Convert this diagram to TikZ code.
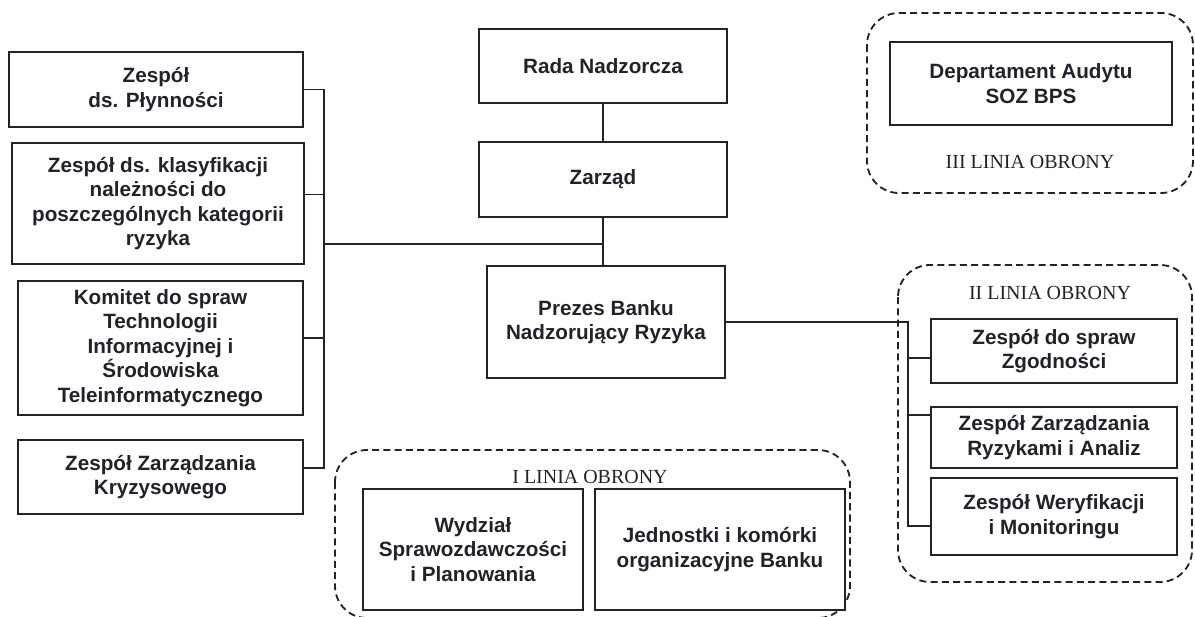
\documentclass[tikz,border=0pt]{standalone}
\usepackage{fontspec}
\setmainfont{Liberation Sans}
\newfontfamily\serifline{Liberation Serif}
\usepackage{tikz}

\definecolor{ink}{RGB}{34,34,44}
\newcommand{\boxfont}{\fontsize{14.7pt}{17.5pt}\selectfont\bfseries}
\newcommand{\oblfont}{\serifline\fontsize{14.2pt}{16pt}\selectfont}

\tikzset{
  unit/.style={draw=ink, line width=1.3pt, fill=white, align=center, text=ink, font=\boxfont, inner sep=1pt},
  link/.style={draw=ink, line width=0.9pt},
  grp/.style={draw=ink, line width=1.3pt, dash pattern=on 5pt off 3pt, rounded corners=0.8cm},
  oblabel/.style={font=\oblfont, text=ink},
}

\begin{document}
\begin{tikzpicture}[x=0.025cm, y=-0.025cm]
    \useasboundingbox (0,0) rectangle (1195,617);

    % linie obrony
    \draw[grp] (867,13) rectangle (1193,193);
    \draw[grp] (898,265) rectangle (1192,582);
    \draw[grp] (335,450) rectangle (850,618);
    \node[oblabel] (obr3) at (1030,162) {III LINIA OBRONY};
    \node[oblabel] (obr2) at (1050,293) {II LINIA OBRONY};
    \node[oblabel] (obr1) at (590,477) {I LINIA OBRONY};

    % srodek
    \node[unit, minimum width=6.2cm, minimum height=1.85cm] (rada) at (603,66) {Rada Nadzorcza};
    \node[unit, minimum width=6.2cm, minimum height=1.875cm] (zarzad) at (603,179.5) {Zarząd};
    \node[unit, minimum width=5.95cm, minimum height=2.8cm] (prezes) at (606,322) {Prezes Banku\\Nadzorujący Ryzyka};

    % lewa strona
    \node[unit, minimum width=7.35cm, minimum height=1.875cm] (plyn) at (156,89.5) {Zespół\\ds. Płynności};
    \node[unit, minimum width=7.3cm, minimum height=3.025cm] (klas) at (158,203.5) {Zespół ds. klasyfikacji\\należności do\\poszczególnych kategorii\\ryzyka};
    \node[unit, minimum width=7.125cm, minimum height=3.35cm] (komitet) at (160.5,348) {Komitet do spraw\\Technologii\\Informacyjnej i\\Środowiska\\Teleinformatycznego};
    \node[unit, minimum width=7.125cm, minimum height=1.85cm] (kryzys) at (160.5,477) {Zespół Zarządzania\\Kryzysowego};

    % prawa strona
    \node[unit, minimum width=7.05cm, minimum height=2.075cm] (audyt) at (1031,83.5) {Departament Audytu\\SOZ BPS};
    \node[unit, minimum width=6.15cm, minimum height=1.6cm] (zgod) at (1054,351) {Zespół do spraw\\Zgodności};
    \node[unit, minimum width=6.15cm, minimum height=1.525cm] (analiz) at (1054,437.5) {Zespół Zarządzania\\Ryzykami i Analiz};
    \node[unit, minimum width=6.15cm, minimum height=1.925cm] (weryf) at (1054,516.5) {Zespół Weryfikacji\\i Monitoringu};

    % dol
    \node[unit, minimum width=5.5cm, minimum height=3.025cm] (wydz) at (473,549.5) {Wydział\\Sprawozdawczości\\i Planowania};
    \node[unit, minimum width=6.25cm, minimum height=3.025cm] (jedn) at (720,549.5) {Jednostki i komórki\\organizacyjne Banku};

    \coordinate (lbus) at (324,244);
    \coordinate (rbus) at (908,340);

    \draw[link] (rada) -- (zarzad);
    \draw[link] (zarzad.south) -- (zarzad.south |- prezes.north);
    \draw[link] (lbus) -- (lbus -| zarzad.south);
    \draw[link] (plyn.east) -| (lbus) |- ([yshift=0.225cm]kryzys.east);
    \draw[link] ([yshift=0.225cm]klas.east) -| (lbus);
    \draw[link] ([yshift=0.25cm]komitet.east) -| (lbus);
    \draw[link] (prezes.east) -| (rbus) |- ([yshift=-0.2375cm]weryf.west);
    \draw[link] ([yshift=-0.175cm]zgod.west) -| (rbus);
    \draw[link] ([yshift=0.5625cm]analiz.west) -| (rbus);
\end{tikzpicture}
\end{document}
